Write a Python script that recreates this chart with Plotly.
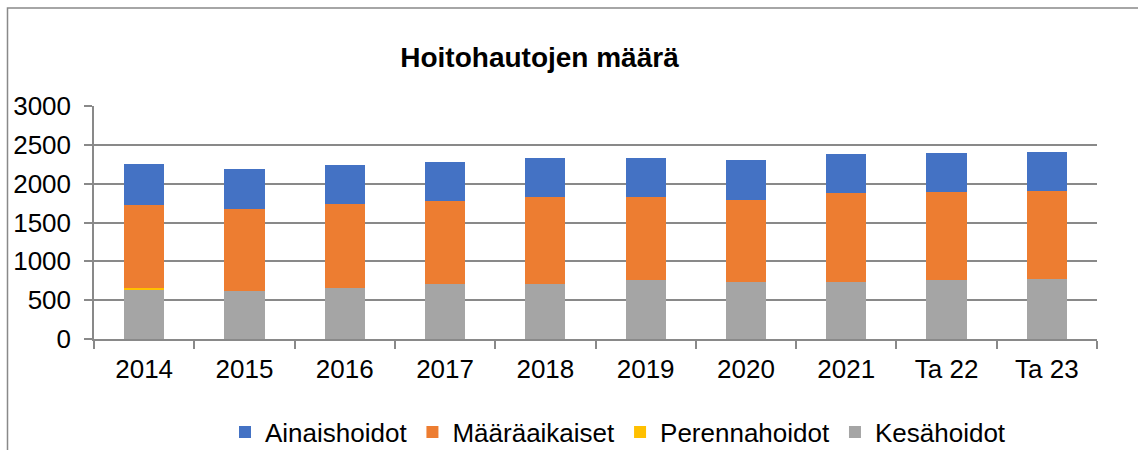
import plotly.graph_objects as go

categories = ["2014", "2015", "2016", "2017", "2018", "2019", "2020", "2021", "Ta 22", "Ta 23"]
kesahoidot = [635, 615, 662, 705, 705, 756, 740, 740, 756, 769]
perennahoidot = [27, 0, 0, 0, 0, 0, 0, 0, 0, 0]
maaraaikaiset = [1061, 1056, 1078, 1066, 1117, 1070, 1056, 1134, 1143, 1143]
ainaishoidot = [528, 516, 502, 502, 503, 503, 503, 506, 498, 494]

series = [
    ("Kesähoidot", kesahoidot, "#A5A5A5"),
    ("Perennahoidot", perennahoidot, "#FFC000"),
    ("Määräaikaiset", maaraaikaiset, "#ED7D31"),
    ("Ainaishoidot", ainaishoidot, "#4472C4"),
]

FONT = "Liberation Sans, Arial, sans-serif"
GRID = "#898989"

fig = go.Figure()
for name, vals, color in series:
    fig.add_trace(go.Bar(
        name=name, x=categories, y=vals,
        marker=dict(color=color, line=dict(width=0)),
    ))

W, H = 1138, 450
L, R, T, B = 94, 41, 106, 111
pw, ph = W - L - R, H - T - B

def px2x(p):
    return (p - L) / pw

def px2y(p):
    return (H - B - p) / ph

fig.update_layout(
    width=W, height=H,
    barmode="stack", bargap=0.6,
    margin=dict(l=L, r=R, t=T, b=B, autoexpand=False),
    paper_bgcolor="white", plot_bgcolor="white",
    font=dict(family=FONT, size=26, color="black"),
    title=dict(
        text="<b>Hoitohautojen määrä</b>",
        font=dict(family=FONT, size=28, color="black"),
        xref="container", x=539.5 / W, xanchor="center",
        yref="container", y=1 - 57 / H, yanchor="middle",
    ),
    xaxis=dict(
        type="category", tickson="boundaries",
        ticks="outside", ticklen=8, tickwidth=1.5, tickcolor=GRID,
        showline=True, linecolor=GRID, linewidth=1.5,
        showgrid=False, tickfont=dict(size=26),
        ticklabelstandoff=6,
    ),
    yaxis=dict(
        range=[0, 3000], dtick=500, tick0=0,
        ticks="outside", ticklen=8, tickwidth=1.5, tickcolor=GRID,
        showline=True, linecolor=GRID, linewidth=1.5,
        showgrid=True, gridcolor=GRID, gridwidth=1.5,
        zeroline=False, tickfont=dict(size=26),
        ticklabelstandoff=8,
    ),
    legend=dict(
        orientation="h", traceorder="reversed",
        x=px2x(618), xanchor="center",
        y=px2y(432), yanchor="middle",
        font=dict(size=26),
        bgcolor="rgba(0,0,0,0)",
    ),
    shapes=[dict(
        type="rect", xref="paper", yref="paper",
        x0=px2x(7.5), x1=px2x(1160), y0=px2y(470), y1=px2y(8),
        line=dict(color=GRID, width=1.5), fillcolor="rgba(0,0,0,0)",
        layer="below",
    )],
)

fig.write_html(
    "out.html",
    config={"displayModeBar": False},
    post_script="document.body.style.margin='0';document.body.style.overflow='hidden';",
)
